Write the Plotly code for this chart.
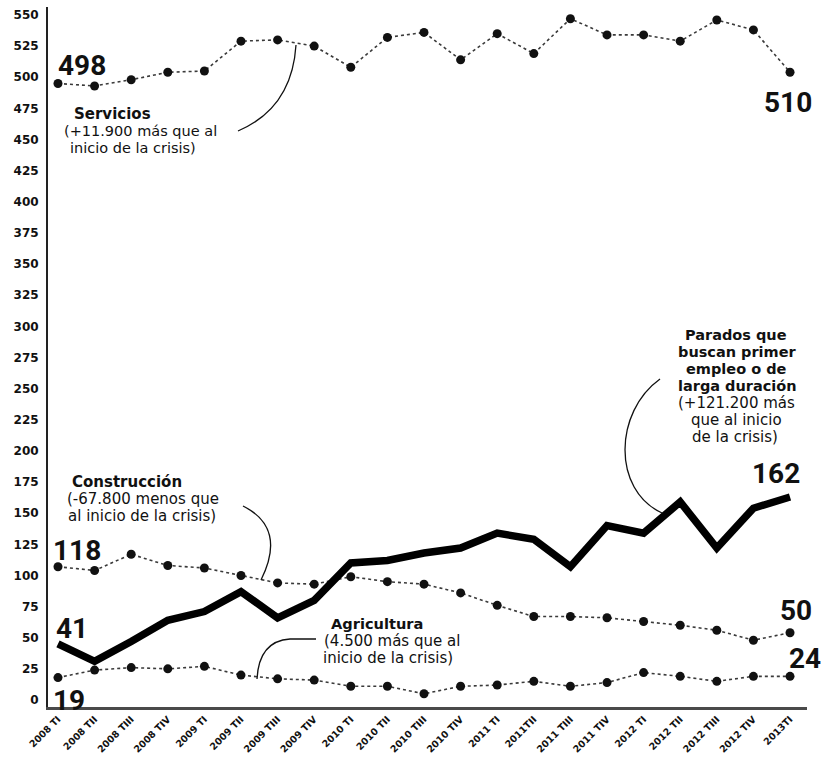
import plotly.graph_objects as go

# ---------------- data ----------------
quarters = ["2008 TI", "2008 TII", "2008 TIII", "2008 TIV", "2009 TI", "2009 TII",
            "2009 TIII", "2009 TIV", "2010 TI", "2010 TII", "2010 TIII", "2010 TIV",
            "2011 TI", "2011TII", "2011 TIII", "2011 TIV", "2012 TI", "2012 TII",
            "2012 TIII", "2012 TIV", "2013TI"]
servicios = [495, 493, 498, 504, 505, 529, 530, 525, 508, 532, 536, 514, 535, 519,
             547, 534, 534, 529, 546, 538, 504]
construccion = [107, 104, 117, 108, 106, 100, 94, 93, 99, 95, 93, 86, 76, 67, 67,
                66, 63, 60, 56, 48, 54]
agricultura = [18, 24, 26, 25, 27, 20, 17, 16, 11, 11, 5, 11, 12, 15, 11, 14, 22,
               19, 15, 19, 19]
parados = [45, 31, 47, 64, 71, 87, 66, 80, 110, 112, 118, 122, 134, 129, 107, 140,
           134, 159, 122, 154, 163]
y_ticks = list(range(0, 551, 25))

xi = list(range(len(quarters)))

# ------------- layout helpers (pixel -> axis coords) -------------
def PX(px):
    return (px - 58) / 36.6

def PY(py):
    return (700 - py) / 1.2455

fig = go.Figure()

dotted = dict(color="#3a3a3a", width=1.6, dash="dot")
mk = dict(color="#111111", size=9, symbol="circle")
for ser in (servicios, construccion, agricultura):
    fig.add_trace(go.Scatter(x=xi, y=ser, mode="lines+markers", line=dotted,
                             marker=mk, showlegend=False, hoverinfo="skip"))
fig.add_trace(go.Scatter(x=xi, y=parados, mode="lines",
                         line=dict(color="#000000", width=7.5),
                         showlegend=False, hoverinfo="skip"))

# ------------- connector curves -------------
def q(p0, c, p1):
    return f"M {PX(p0[0])},{PY(p0[1])} Q {PX(c[0])},{PY(c[1])} {PX(p1[0])},{PY(p1[1])}"

shapes = []
line_style = dict(color="#111111", width=1.3)
shapes.append(dict(type="path", xref="x", yref="y",
                   path=q((296, 45), (292, 108), (238, 131)), line=line_style))
shapes.append(dict(type="path", xref="x", yref="y",
                   path=q((243, 506), (287, 528), (261, 580)), line=line_style))
shapes.append(dict(type="path", xref="x", yref="y",
                   path=f"M {PX(316)},{PY(639)} L {PX(290)},{PY(639)} "
                        f"Q {PX(259)},{PY(641)} {PX(257)},{PY(679)}",
                   line=line_style))
shapes.append(dict(type="path", xref="x", yref="y",
                   path=f"M {PX(660)},{PY(379)} C {PX(614)},{PY(412)} "
                        f"{PX(612)},{PY(490)} {PX(662)},{PY(513)}",
                   line=line_style))

# ------------- annotations -------------
ann = []
NUM_FAM = "Roboto, Liberation Sans, sans-serif"
TXT_FAM = "DejaVu Sans, sans-serif"

def num(text, px, py, xanchor="center"):
    ann.append(dict(x=PX(px), y=PY(py + 3), xref="x", yref="y", text=text,
                    showarrow=False,
                    font=dict(family=NUM_FAM, size=28, color="#111111", weight="bold"),
                    xanchor=xanchor, yanchor="middle"))

num("498", 56, 62, "left")
num("510", 788, 99)
num("118", 51, 547, "left")
num("41", 54, 625, "left")
num("19", 51, 697, "left")
num("162", 776, 470)
num("50", 796, 607)
num("24", 805, 655)

def line(text, px, py, size, bold=False, xanchor="center"):
    ann.append(dict(x=PX(px), y=PY(py + 1), xref="x", yref="y", text=text,
                    showarrow=False,
                    font=dict(family=TXT_FAM, size=size, color="#111111",
                              weight="bold" if bold else "normal"),
                    xanchor=xanchor, yanchor="middle"))

# Servicios
line("Servicios", 72, 113, 15, True, "left")
line("(+11.900 más que al", 62, 130, 14.5, False, "left")
line("inicio de la crisis)", 68, 147, 14.5, False, "left")
# Construcción
line("Construcción", 127, 481, 15, True)
line("(-67.800 menos que", 143, 498, 15)
line("al inicio de la crisis)", 142, 515, 15)
# Agricultura
line("Agricultura", 377, 622, 14.6, True)
line("(4.500 más que al", 392, 640, 15)
line("inicio de la crisis)", 388, 657, 15)
# Parados
line("Parados que", 736, 334, 14.5, True)
line("buscan primer", 737, 351, 14.5, True)
line("empleo o de", 736, 368, 14.5, True)
line("larga duración", 737, 385, 14.5, True)
line("(+121.200 más", 736, 402, 15)
line("que al inicio", 736, 419, 15)
line("de la crisis)", 735, 436, 15)

tick_fam = "DejaVu Sans, sans-serif"
fig.update_layout(
    width=821, height=759,
    margin=dict(l=48, r=14, t=7, b=52, autoexpand=False),
    paper_bgcolor="white", plot_bgcolor="white",
    shapes=shapes, annotations=ann,
    xaxis=dict(range=[-0.273, 20.464], tickmode="array", tickvals=xi,
               ticktext=quarters, tickangle=-45, showgrid=False, zeroline=False,
               showline=True, linecolor="#4a4a4a", linewidth=3, ticks="",
               automargin=False,
               tickfont=dict(family=tick_fam, size=9.5, color="#111111", weight="bold")),
    yaxis=dict(range=[-5.62, 556.4], tickmode="array", tickvals=y_ticks,
               showgrid=False, zeroline=False, showline=True, linecolor="#222222",
               linewidth=2, ticks="", ticklabelstandoff=5, automargin=False,
               tickfont=dict(family=tick_fam, size=12, color="#111111", weight="bold")),
)

fig.write_html("out.html", config={"displayModeBar": False},
               post_script="document.body.style.margin='0';document.body.style.padding='0';")
